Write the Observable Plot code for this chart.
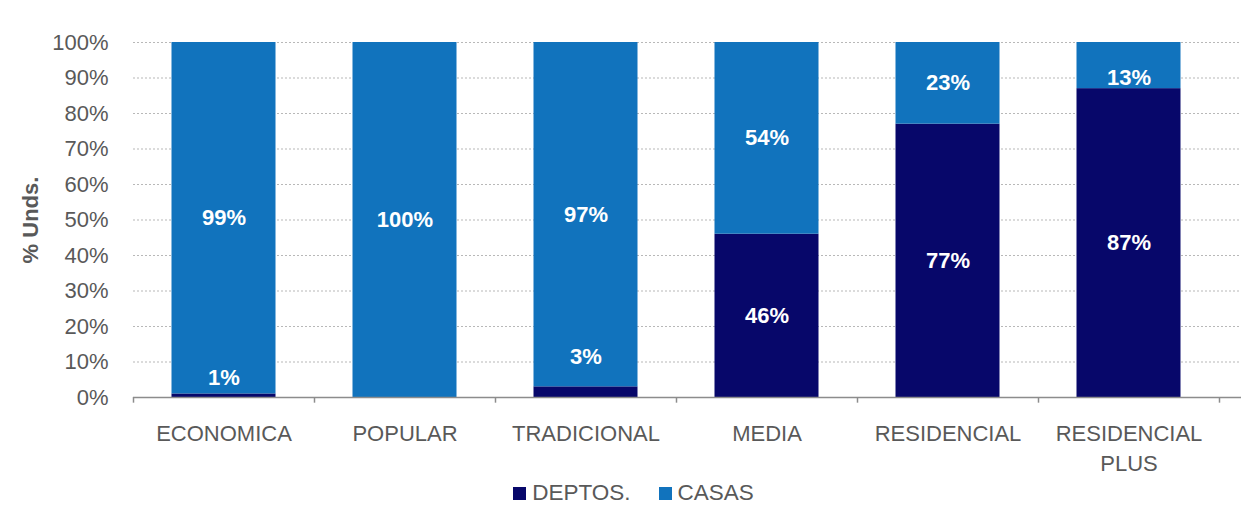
<!DOCTYPE html>
<html><head><meta charset="utf-8">
<script src="https://cdn.jsdelivr.net/npm/d3@7"></script>
<script src="https://cdn.jsdelivr.net/npm/@observablehq/plot@0.6"></script>
<style>
body{margin:0;background:#fff;font-family:"Liberation Sans",Arial,sans-serif;}
#legend{display:flex;justify-content:center;align-items:center;height:36px;margin-left:26px;color:#595959;font-size:22.5px;}
#legend .it{display:flex;align-items:center;margin:0 14px;}
#legend .sw{width:13px;height:13px;margin-right:6px;}
</style></head>
<body>
<div id="chart"></div>
<div id="legend"></div>
<script>
const categories = ["ECONOMICA", "POPULAR", "TRADICIONAL", "MEDIA", "RESIDENCIAL", "RESIDENCIAL\nPLUS"];
const series = ["DEPTOS.", "CASAS"];
const deptos = [1, 0, 3, 46, 77, 87];
const casas = [99, 100, 97, 54, 23, 13];
const colors = ["#07076a", "#1173bd"];
const yTicks = [0, 10, 20, 30, 40, 50, 60, 70, 80, 90, 100];

const rows = [];
categories.forEach((c, i) => {
  rows.push({cat: c, tipo: series[0], v: deptos[i]});
  rows.push({cat: c, tipo: series[1], v: casas[i]});
});
const labels = [];
categories.forEach((c, i) => {
  const d = deptos[i], k = casas[i];
  if (d > 0) labels.push({cat: c, y: d < 5 ? 2.5 + 3 * d : d / 2, t: d + "%"});
  if (k > 0) labels.push({cat: c, y: Math.min(d + k / 2, 90), t: k + "%"});
});

const W = 1241, H = 475, ML = 133, MR = 0;
const step = 181;
const xRange = [ML, ML + step * categories.length];
const grey = "#595959";

const plot = Plot.plot({
  width: W, height: H,
  marginLeft: ML, marginRight: MR, marginTop: 42, marginBottom: 78,
  style: {fontFamily: "'Liberation Sans', Arial, sans-serif", color: grey, background: "#fff"},
  x: {domain: categories, padding: 0, range: xRange, axis: null},
  y: {domain: [0, 100], axis: null},
  color: {domain: series, range: colors},
  marks: [
    Plot.ruleY(yTicks.filter(t => t > 0), {stroke: "#b8b8b8", strokeDasharray: "2,2", strokeWidth: 1.2}),
    Plot.barY(rows, {x: "cat", y: "v", fill: "tipo", order: series, insetLeft: 38.5, insetRight: 38.5}),
    Plot.ruleY([0], {stroke: "#8c8c8c", strokeWidth: 1.5}),
    Plot.ruleX(categories, {x: d => d, dx: -step / 2, y1: 0, y2: -1.6, stroke: "#8c8c8c", strokeWidth: 1.5}),
    Plot.ruleX(categories.slice(-1), {x: d => d, dx: step / 2, y1: 0, y2: -1.6, stroke: "#8c8c8c", strokeWidth: 1.5}),
    Plot.text(yTicks, {x: () => categories[0], y: d => d, dx: -step / 2 - 25, text: d => d + "%", textAnchor: "end", fontSize: 22, fill: grey}),
    Plot.text(categories, {x: d => d, y: 0, dy: 23, text: d => d, lineAnchor: "top", lineHeight: 1.33, fontSize: 22, fill: grey}),
    Plot.text(["% Unds."], {frameAnchor: "left", dx: -103, rotate: -90, textAnchor: "middle", text: d => d, fontSize: 22, fontWeight: "bold", fill: grey}),
    Plot.text(labels, {x: "cat", y: "y", text: "t", fill: "white", fontWeight: "bold", fontSize: 22})
  ]
});
document.getElementById("chart").append(plot);

const lg = document.getElementById("legend");
series.forEach((s, i) => {
  const it = document.createElement("div"); it.className = "it";
  const sw = document.createElement("div"); sw.className = "sw"; sw.style.background = colors[i];
  const tx = document.createElement("span"); tx.textContent = s;
  it.append(sw, tx); lg.append(it);
});
</script>
</body></html>
